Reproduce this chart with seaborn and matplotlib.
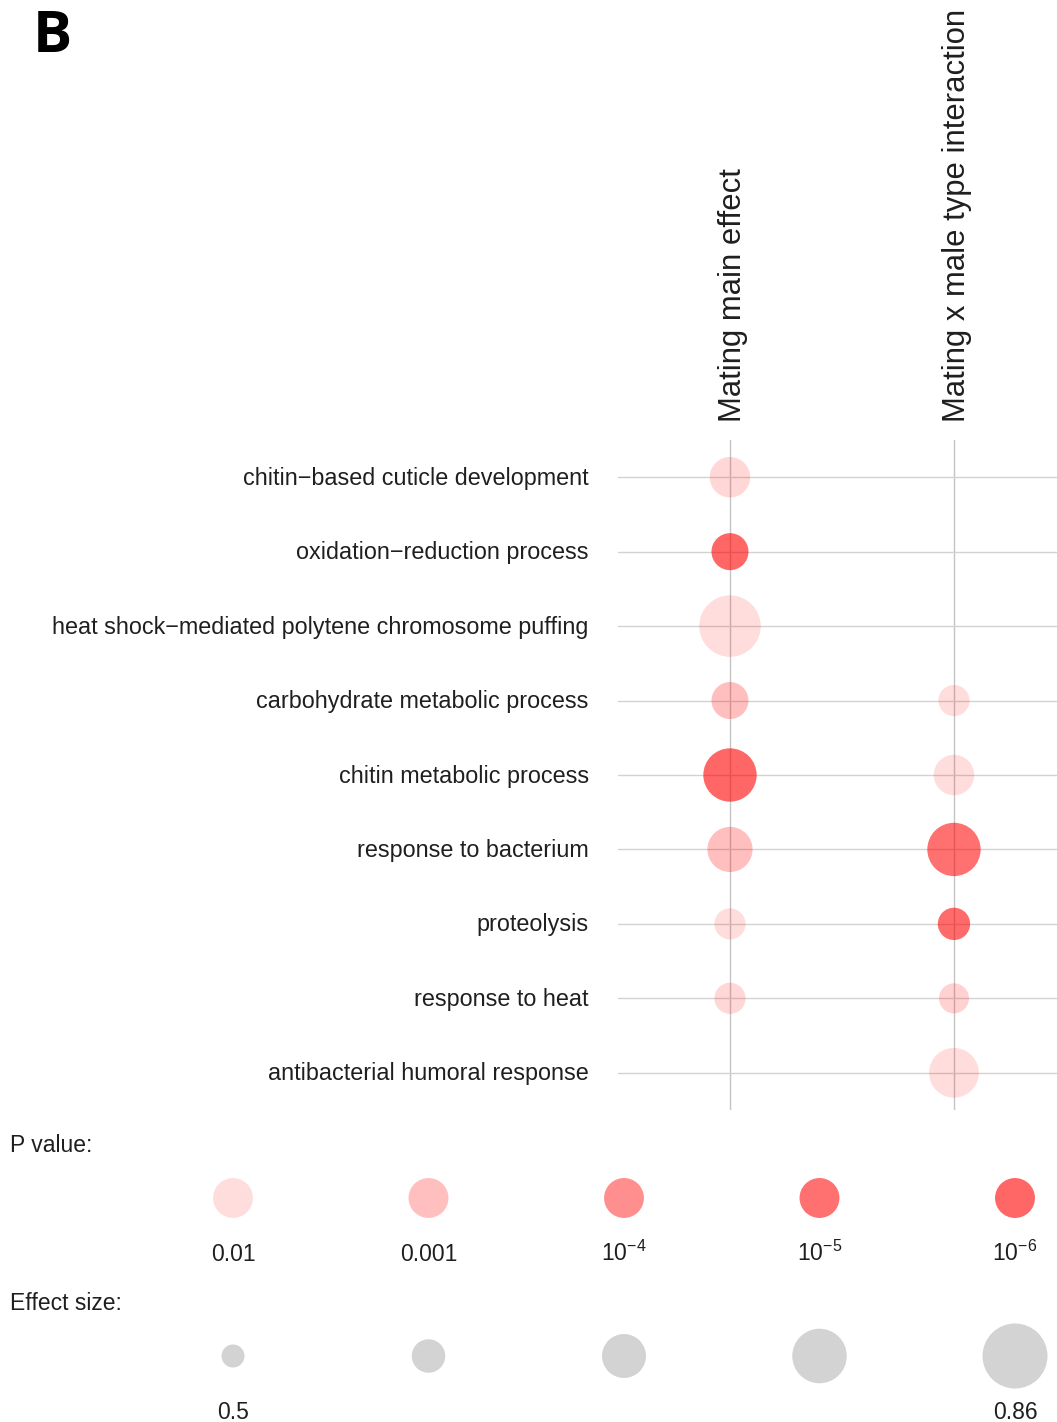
import numpy as np
import pandas as pd
import matplotlib
matplotlib.use("Agg")
import matplotlib.pyplot as plt
import seaborn as sns
from matplotlib.colors import LinearSegmentedColormap
from matplotlib.transforms import ScaledTranslation

# ---------------- data ----------------
terms = [
    "chitin\u2212based cuticle development",
    "oxidation\u2212reduction process",
    "heat shock\u2212mediated polytene chromosome puffing",
    "carbohydrate metabolic process",
    "chitin metabolic process",
    "response to bacterium",
    "proteolysis",
    "response to heat",
    "antibacterial humoral response",
]
effects = ["Mating main effect", "Mating x male type interaction"]

# effect sizes (NaN = not significant / not shown)
effect_main = [0.65, 0.62, 0.83, 0.62, 0.76, 0.69, 0.57, 0.57, np.nan]
effect_inter = [np.nan, np.nan, np.nan, 0.57, 0.65, 0.76, 0.58, 0.56, 0.73]

# -log10(P value)
neglogp_main = [2.2, 6.0, 2.0, 3.0, 6.0, 3.0, 2.0, 2.2, np.nan]
neglogp_inter = [np.nan, np.nan, np.nan, 2.0, 2.0, 5.0, 5.5, 2.4, 2.0]

p_legend_values = [2, 3, 4, 5, 6]
p_legend_labels = ["0.01", "0.001", r"$10^{-4}$", r"$10^{-5}$", r"$10^{-6}$"]
p_legend_effect = 0.645

size_legend_values = [0.5, 0.59, 0.68, 0.77, 0.86]
size_legend_labels = ["0.5", "", "", "", "0.86"]

# ---------------- style ----------------
W, H = 1057, 1422
sns.set_style("white")
plt.rcParams["font.family"] = ["Liberation Sans", "DejaVu Sans"]
plt.rcParams["mathtext.fontset"] = "custom"
plt.rcParams["mathtext.rm"] = "Liberation Sans"
plt.rcParams["mathtext.it"] = "Liberation Sans:italic"
plt.rcParams["mathtext.bf"] = "Liberation Sans:bold"
TXT = "#1f1f1f"


def fx(px):
    return px / W


def fy(py):
    return 1 - py / H


def area(e):
    d_px = 23 + (np.asarray(e, dtype=float) - 0.5) / 0.36 * 42
    return (d_px * 72 / 100) ** 2


S_MIN, S_MAX = float(area(0.3)), float(area(1.0))

alphas = [0.133, 0.251, 0.439, 0.561, 0.60]
cmap = LinearSegmentedColormap.from_list(
    "pv", [(i / 4, (1, 0, 0, a)) for i, a in enumerate(alphas)]
)

fig = plt.figure(figsize=(W / 100, H / 100), dpi=100)

# ---------------- main bubble plot ----------------
rows = []
for j, (eff_list, p_list) in enumerate([(effect_main, neglogp_main), (effect_inter, neglogp_inter)]):
    for i, t in enumerate(terms):
        if not np.isnan(eff_list[i]):
            rows.append(dict(term=t, effect=effects[j], xpos=j, ypos=i,
                             esize=eff_list[i], neglogp=p_list[i]))
df = pd.DataFrame(rows)
df["s"] = area(df["esize"])

ax = fig.add_axes([fx(618), fy(1110), fx(1057) - fx(618), fy(440) - fy(1110)])
ax.set_axisbelow(True)
sns.scatterplot(data=df, x="xpos", y="ypos", hue="neglogp", palette=cmap,
                hue_norm=(2, 6), size="s", sizes=(S_MIN, S_MAX),
                size_norm=(S_MIN, S_MAX), linewidth=0, legend=False, ax=ax,
                zorder=3)
ax.set_xlim(-0.5, 1.46)
ax.set_ylim(8.5, -0.5)
ax.set_xticks([0, 1])
ax.set_xticklabels(effects, rotation=90, fontsize=22.3, color=TXT)
ax.xaxis.tick_top()
ax.set_yticks(range(len(terms)))
ax.set_yticklabels(terms, fontsize=16.8, color=TXT)
ax.tick_params(axis="x", length=0, pad=13)
ax.tick_params(axis="y", length=0, pad=21)
ax.set_xlabel("")
ax.set_ylabel("")
ax.xaxis.grid(True, color="#c4c4c4", linewidth=1.0)
ax.yaxis.grid(True, color="#d2d2d2", linewidth=1.0)
for sp in ax.spines.values():
    sp.set_visible(False)
shift = ScaledTranslation(3 / 100, 0, fig.dpi_scale_trans)
for lab in ax.get_xticklabels():
    lab.set_transform(lab.get_transform() + shift)
for lab in ax.get_yticklabels():
    lab.set_transform(lab.get_transform() + ScaledTranslation(0, 1.5 / 100, fig.dpi_scale_trans))

# ---------------- P value legend ----------------
axp = fig.add_axes([0, fy(1280), 1, fy(1160) - fy(1280)])
dfp = pd.DataFrame(dict(pos=range(5), y=0, neglogp=p_legend_values))
dfp["s"] = float(area(p_legend_effect))
sns.scatterplot(data=dfp, x="pos", y="y", hue="neglogp", palette=cmap,
                hue_norm=(2, 6), size="s", sizes=(S_MIN, S_MAX),
                size_norm=(S_MIN, S_MAX), linewidth=0, legend=False, ax=axp)
axp.set_xlim(-233 / 195.5, (1057 - 233) / 195.5)
axp.set_ylim(82, -38)
for i, lab in enumerate(p_legend_labels):
    axp.text(i, 63, lab, ha="center", va="baseline", fontsize=16.5, color=TXT)
axp.axis("off")

# ---------------- effect size legend ----------------
axe = fig.add_axes([0, fy(1422), 1, fy(1320) - fy(1422)])
dfe = pd.DataFrame(dict(pos=range(5), y=0, esize=size_legend_values))
dfe["s"] = area(dfe["esize"])
sns.scatterplot(data=dfe, x="pos", y="y", color="#d3d3d3", size="s",
                sizes=(S_MIN, S_MAX), size_norm=(S_MIN, S_MAX), linewidth=0,
                legend=False, ax=axe)
axe.set_xlim(-233 / 195.5, (1057 - 233) / 195.5)
axe.set_ylim(66, -36)
for i, lab in enumerate(size_legend_labels):
    if lab:
        axe.text(i, 63, lab, ha="center", va="baseline", fontsize=16.5, color=TXT)
axe.axis("off")

# ---------------- titles ----------------
fig.text(fx(10), fy(1145), "P value:", ha="left", va="center", fontsize=16.5, color=TXT)
fig.text(fx(10), fy(1303), "Effect size:", ha="left", va="center", fontsize=16.5, color=TXT)
fig.text(fx(33), fy(52), "B", ha="left", va="baseline", fontsize=42,
         fontweight="bold", family=["Open Sans", "DejaVu Sans"], color="black")

fig.savefig("out.png", dpi=100)
